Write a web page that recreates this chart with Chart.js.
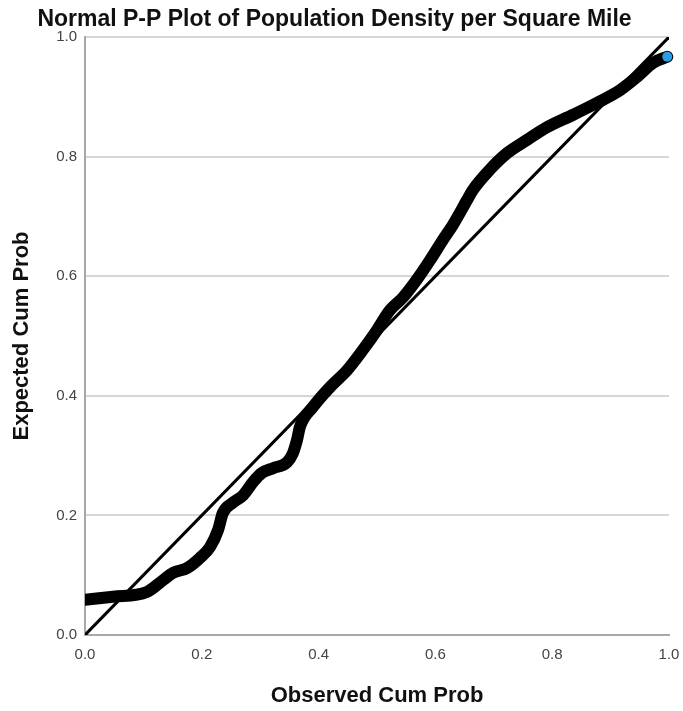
<!DOCTYPE html>
<html>
<head>
<meta charset="utf-8">
<title>Normal P-P Plot</title>
<script src="https://cdn.jsdelivr.net/npm/chart.js@4.4.0/dist/chart.umd.min.js"></script>
<style>
    body { margin: 0; background: #fff; }
    #wrap { width: 683px; height: 711px; }
</style>
</head>
<body>
<div id="wrap"><canvas id="ppChart" width="683" height="711"></canvas></div>
<script>
// Chart data
const observedCum = [0.000, 0.048, 0.106, 0.134, 0.151, 0.175, 0.197, 0.214, 0.228, 0.236,
    0.253, 0.271, 0.288, 0.303, 0.322, 0.346, 0.356, 0.363, 0.368, 0.390,
    0.420, 0.449, 0.476, 0.500, 0.522, 0.545, 0.568, 0.591, 0.613, 0.630,
    0.654, 0.664, 0.693, 0.723, 0.757, 0.791, 0.836, 0.877, 0.916, 0.945,
    0.973, 0.997];
const expectedCum = [0.059, 0.064, 0.072, 0.092, 0.104, 0.112, 0.129, 0.147, 0.176, 0.204,
    0.221, 0.234, 0.256, 0.271, 0.279, 0.289, 0.304, 0.326, 0.348, 0.381,
    0.415, 0.443, 0.477, 0.510, 0.543, 0.565, 0.594, 0.627, 0.661, 0.686,
    0.727, 0.744, 0.778, 0.806, 0.828, 0.849, 0.870, 0.890, 0.911, 0.933,
    0.957, 0.967];
const refLineX = [0, 1];
const refLineY = [0, 1];
const tickValues = [0, 0.2, 0.4, 0.6, 0.8, 1.0];

const FONT = "'Liberation Sans', Arial, sans-serif";

function toPoints(xs, ys) {
    return xs.map((x, i) => ({ x: x, y: ys[i] }));
}

document.addEventListener('DOMContentLoaded', () => {
    const ctx = document.getElementById('ppChart').getContext('2d');
    const curve = toPoints(observedCum, expectedCum);
    const lastPoint = curve.slice(-1);

    const axisCommon = {
        type: 'linear',
        min: 0,
        max: 1,
        afterBuildTicks: (scale) => {
            scale.ticks = tickValues.map(v => ({ value: v }));
        },
        ticks: {
            color: '#444',
            font: { family: FONT, size: 15 },
            callback: (v) => Number(v).toFixed(1)
        },
        border: { display: true, color: '#a8a8a8', width: 2 }
    };

    new Chart(ctx, {
        type: 'scatter',
        data: {
            datasets: [
                {
                    // reference diagonal
                    data: toPoints(refLineX, refLineY),
                    showLine: true,
                    borderColor: '#000',
                    borderWidth: 3,
                    pointRadius: 0,
                    order: 1
                },
                {
                    // last observed marker shows its blue fill
                    data: lastPoint,
                    pointRadius: 5,
                    backgroundColor: '#2a9de6',
                    borderWidth: 0,
                    clip: 8,
                    order: 2
                },
                {
                    // dense markers, drawn as one thick line
                    data: curve,
                    showLine: true,
                    borderColor: '#000',
                    borderWidth: 12,
                    borderCapStyle: 'round',
                    borderJoinStyle: 'round',
                    cubicInterpolationMode: 'monotone',
                    pointRadius: 0,
                    clip: { left: 0, top: 6, right: 6, bottom: 0 },
                    order: 3
                }
            ]
        },
        options: {
            responsive: false,
            animation: false,
            layout: { padding: { left: 0, right: 14, top: 0, bottom: 0 } },
            plugins: {
                legend: { display: false },
                tooltip: { enabled: false },
                title: {
                    display: true,
                    text: 'Normal P-P Plot of Population Density per Square Mile',
                    color: '#111',
                    font: { family: FONT, size: 23, weight: 'bold', lineHeight: 1.2 },
                    padding: { top: 6, bottom: 3.4 }
                }
            },
            scales: {
                x: {
                    ...axisCommon,
                    grid: { display: false, drawTicks: false },
                    ticks: { ...axisCommon.ticks, padding: 11, maxRotation: 0 },
                    title: {
                        display: true,
                        text: 'Observed Cum Prob',
                        color: '#111',
                        font: { family: FONT, size: 22, weight: 'bold', lineHeight: 1.2 },
                        padding: { top: 0, bottom: 2 }
                    },
                    afterFit: (scale) => {
                        scale.height = 76;
                        scale.paddingRight = 0;
                        scale.paddingLeft = 0;
                    }
                },
                y: {
                    ...axisCommon,
                    grid: { color: '#d6d6d6', lineWidth: 2, drawTicks: false },
                    ticks: { ...axisCommon.ticks, padding: 8 },
                    title: {
                        display: true,
                        text: 'Expected Cum Prob',
                        color: '#111',
                        font: { family: FONT, size: 22, weight: 'bold', lineHeight: 1.2 },
                        padding: { top: 9, bottom: 0 }
                    },
                    afterFit: (scale) => { scale.width = 85; }
                }
            }
        }
    });
});
</script>
</body>
</html>
